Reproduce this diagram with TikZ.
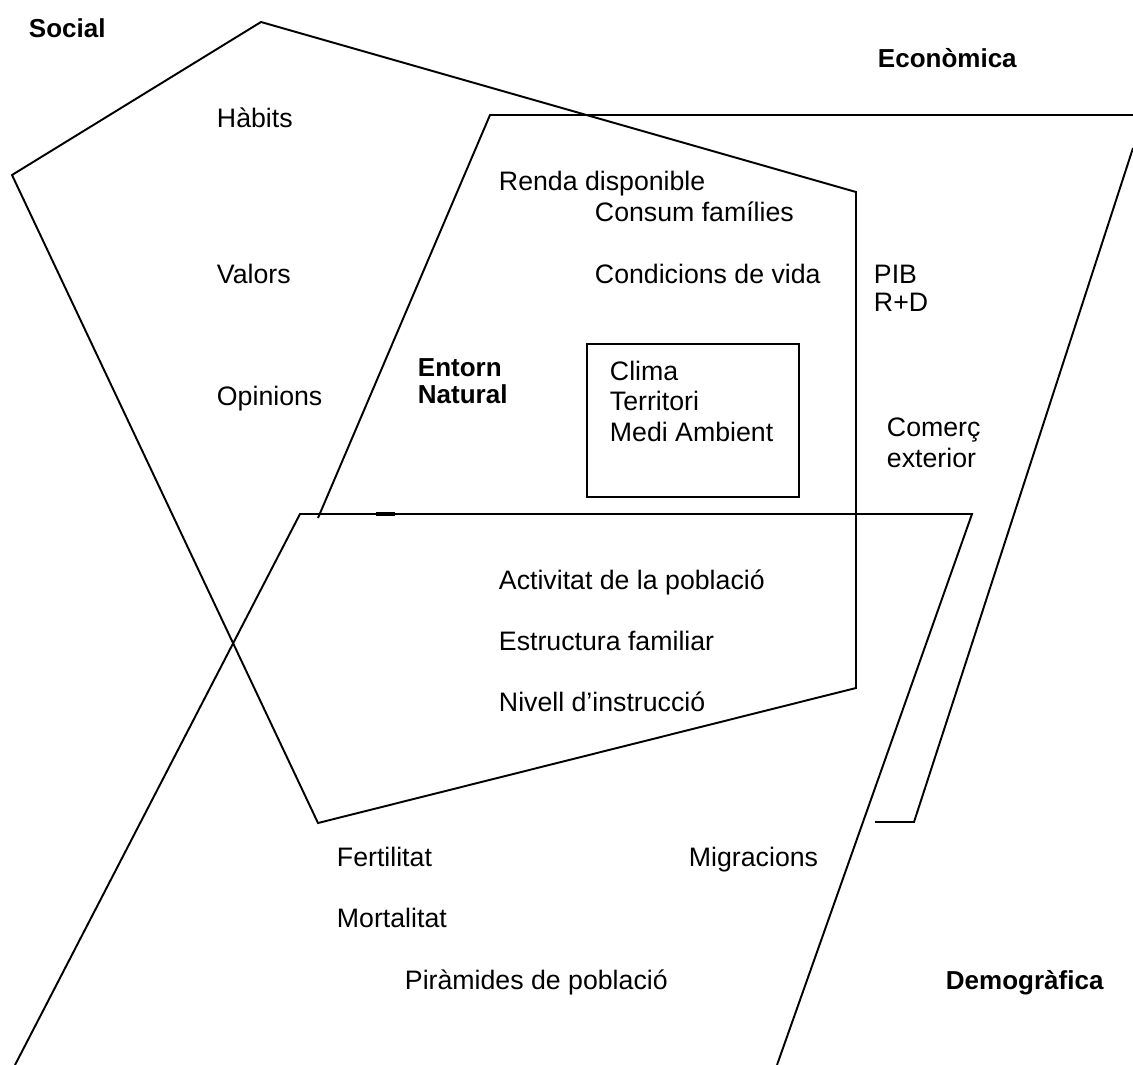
\documentclass[tikz,border=0pt]{standalone}
\usepackage{fontspec}
\setmainfont{Liberation Sans}

\begin{document}
\begin{tikzpicture}[x=0.02cm,y=-0.02cm,line width=1.1pt,
  lbl/.style={anchor=base west,inner sep=0pt,font=\fontsize{15.2}{18}\selectfont},
  title/.style={lbl,font=\fontsize{14.8}{18}\selectfont\bfseries}]
  \useasboundingbox (0,0) rectangle (1133,1065);
  % Social
  \draw
    (261,22) coordinate (S1)
    -- (856,192) coordinate (S2)
    -- (856,688) coordinate (S3)
    -- (318,823) coordinate (S4)
    -- (12,175) coordinate (S5)
    -- cycle;
  % Economica
  \draw (318,518) coordinate (E1) -- (490,115) coordinate (E2) -- (1133,115) coordinate (E3);
  \draw (1133,148) coordinate (E4) -- (914,822) coordinate (E5) -- (875,822) coordinate (E6);
  \draw[line width=1.8pt] (376,514) -- (395,514);
  % Demografica
  \draw (15,1065) coordinate (D1) -- (300,514) coordinate (D2) -- (972,514) coordinate (D3) -- (777,1065) coordinate (D4);
  % Entorn natural
  \draw (587,344) coordinate (N1) rectangle (799,497) coordinate (N2);

  \node[title] (social) at (28,37) {Social};
  \node[title] (economica) at (877,67) {Econòmica};
  \node[title] (demografica) at (945,989) {Demogràfica};
  \node[title] (entorn) at (417,376) {Entorn};
  \node[title] (natural) at (417,403) {Natural};

  \node[lbl] (habits) at (216,127) {Hàbits};
  \node[lbl] (valors) at (216,283) {Valors};
  \node[lbl] (opinions) at (216,405) {Opinions};

  \node[lbl] (renda) at (498,190) {Renda disponible};
  \node[lbl] (consum) at (594,221) {Consum famílies};
  \node[lbl] (condicions) at (594,283) {Condicions de vida};
  \node[lbl] (pib) at (873,283) {PIB};
  \node[lbl] (rd) at (873,311) {R+D};
  \node[lbl] (comerc) at (886,436) {Comerç};
  \node[lbl] (exterior) at (886,467) {exterior};

  \node[lbl] (clima) at (609,380) {Clima};
  \node[lbl] (territori) at (609,410) {Territori};
  \node[lbl] (medi) at (609,441) {Medi Ambient};

  \node[lbl] (activitat) at (498,589) {Activitat de la població};
  \node[lbl] (estructura) at (498,650) {Estructura familiar};
  \node[lbl] (nivell) at (498,711) {Nivell d’instrucció};

  \node[lbl] (fertilitat) at (336,866) {Fertilitat};
  \node[lbl] (migracions) at (688,866) {Migracions};
  \node[lbl] (mortalitat) at (336,927) {Mortalitat};
  \node[lbl] (piramides) at (404,989) {Piràmides de població};
\end{tikzpicture}
\end{document}
